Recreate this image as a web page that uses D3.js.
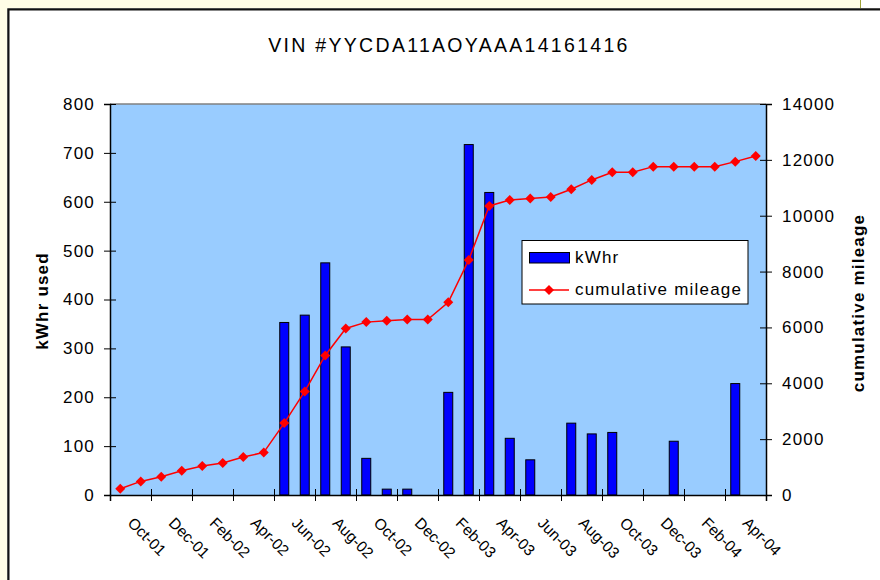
<!DOCTYPE html>
<html>
<head>
<meta charset="utf-8">
<script src="https://cdn.jsdelivr.net/npm/d3@7"></script>
<style>
  body { margin: 0; background: #fff; }
  svg { display: block; font-family: "Liberation Sans", Arial, sans-serif; }
</style>
</head>
<body>
<div id="chart"></div>
<script>
// monthly data, Oct-01 .. May-04
const months = ["Oct-01","Nov-01","Dec-01","Jan-02","Feb-02","Mar-02","Apr-02","May-02",
  "Jun-02","Jul-02","Aug-02","Sep-02","Oct-02","Nov-02","Dec-02","Jan-03",
  "Feb-03","Mar-03","Apr-03","May-03","Jun-03","Jul-03","Aug-03","Sep-03",
  "Oct-03","Nov-03","Dec-03","Jan-04","Feb-04","Mar-04","Apr-04","May-04"];

const kwhr = [null,null,null,null,null,null,null,null,
  353,368,475,303,75,12,12,null,
  210,717,619,116,72,null,147,125,
  128,null,null,110,null,null,228,null];

const mileage = [225,487,655,869,1037,1145,1360,1524,
  2576,3707,4995,5961,6190,6236,6283,6283,
  6900,8418,10350,10565,10612,10673,10948,11281,
  11556,11556,11757,11757,11757,11757,11936,12140];

const leftTicks = [0,100,200,300,400,500,600,700,800];
const rightTicks = [0,2000,4000,6000,8000,10000,12000,14000];
const title = "VIN #YYCDA11AOYAAA14161416";

// 1. svg + page frame
const svgWidth = 880, svgHeight = 580;
const plot = {left: 110, right: 766, top: 104, bottom: 495};

const svg = d3.select("#chart").append("svg")
  .attr("width", svgWidth)
  .attr("height", svgHeight);

svg.append("rect").attr("x", 0).attr("y", 0).attr("width", 860).attr("height", 9).attr("fill", "#FFFDE6");
svg.append("rect").attr("x", 0).attr("y", 0).attr("width", 8).attr("height", svgHeight).attr("fill", "#FFFDE6");
svg.append("line").attr("x1", 860.5).attr("x2", 860.5).attr("y1", 0).attr("y2", 9)
  .attr("stroke", "#9FA33A").attr("stroke-width", 1);
svg.append("path")
  .attr("d", `M7.5,${svgHeight + 5}V8.5H${svgWidth + 5}`)
  .attr("fill", "none").attr("stroke", "#888").attr("stroke-width", 1);
svg.append("path")
  .attr("d", `M8.5,${svgHeight + 5}V9.5H${svgWidth + 5}`)
  .attr("fill", "none").attr("stroke", "#111").attr("stroke-width", 2);

// 2. scales
const x = d3.scaleLinear().domain([0, months.length]).range([plot.left, plot.right]);
const yL = d3.scaleLinear().domain([0, 800]).range([plot.bottom, plot.top]);
const yR = d3.scaleLinear().domain([0, 14000]).range([plot.bottom, plot.top]);
const cx = i => x(i + 0.5);

// 3. plot area
svg.append("rect")
  .attr("x", plot.left).attr("y", plot.top)
  .attr("width", plot.right - plot.left).attr("height", plot.bottom - plot.top)
  .attr("fill", "#99CCFF");
svg.append("line")
  .attr("x1", plot.left).attr("x2", plot.right)
  .attr("y1", plot.top).attr("y2", plot.top)
  .attr("stroke", "#808080").attr("stroke-width", 1.5);

// title
svg.append("text")
  .attr("x", 449).attr("y", 52)
  .attr("text-anchor", "middle")
  .attr("font-size", "19.5px")
  .attr("letter-spacing", "2.3px")
  .attr("fill", "#000")
  .text(title);

// 4. bars
const barW = 9;
svg.append("g")
  .selectAll("rect")
  .data(kwhr.map((v, i) => ({v, i})).filter(d => d.v !== null))
  .enter()
  .append("rect")
  .attr("x", d => cx(d.i) - barW / 2)
  .attr("y", d => yL(d.v))
  .attr("width", barW)
  .attr("height", d => yL(0) - yL(d.v))
  .attr("fill", "#0000FF")
  .attr("stroke", "#000")
  .attr("stroke-width", 1);

// 5. axes
const fontSize = "17px";
const crossTicks = (g, dir) => g.selectAll(".tick line")
  .attr(dir + "1", -6).attr(dir + "2", 6);

const leftAxis = svg.append("g")
  .attr("transform", `translate(${plot.left},0)`)
  .call(d3.axisLeft(yL).tickValues(leftTicks).tickSize(6).tickPadding(9).tickFormat(d3.format("d")))
  .call(g => crossTicks(g, "x"));

const rightAxis = svg.append("g")
  .attr("transform", `translate(${plot.right},0)`)
  .call(d3.axisRight(yR).tickValues(rightTicks).tickSize(6).tickPadding(10).tickFormat(d3.format("d")))
  .call(g => crossTicks(g, "x"));

const bottomAxis = svg.append("g")
  .attr("transform", `translate(0,${plot.bottom})`)
  .call(d3.axisBottom(x).tickValues(d3.range(0, months.length + 1, 2)).tickSize(6).tickFormat(""))
  .call(g => crossTicks(g, "y"));

[leftAxis, rightAxis, bottomAxis].forEach(g => {
  g.select(".domain").attr("stroke", "#000").attr("stroke-width", 1.5);
  g.selectAll(".tick line").attr("stroke", "#000").attr("stroke-width", 1);
  g.selectAll("text")
    .attr("font-size", fontSize)
    .attr("letter-spacing", "1.2px")
    .attr("fill", "#000")
    .attr("font-family", null);
});

// rotated month labels
svg.append("g")
  .selectAll("text")
  .data(months.map((m, i) => ({m, i})).filter(d => d.i % 2 === 0))
  .enter()
  .append("text")
  .attr("transform", d => `translate(${cx(d.i) + 6.5},${plot.bottom + 29}) rotate(45)`)
  .attr("font-size", "15.5px")
  .attr("fill", "#000")
  .text(d => d.m);

// 6. mileage line + diamonds
const line = d3.line()
  .x((d, i) => cx(i))
  .y(d => yR(d));

svg.append("path")
  .datum(mileage)
  .attr("d", line)
  .attr("fill", "none")
  .attr("stroke", "#FF0000")
  .attr("stroke-width", 1.5);

const diamond = "M0,-5L5,0L0,5L-5,0Z";
svg.append("g")
  .selectAll("path")
  .data(mileage)
  .enter()
  .append("path")
  .attr("d", diamond)
  .attr("transform", (d, i) => `translate(${cx(i)},${yR(d)})`)
  .attr("fill", "#FF0000");

// 7. axis titles
svg.append("text")
  .attr("transform", "translate(48,301) rotate(-90)")
  .attr("text-anchor", "middle")
  .attr("font-size", fontSize)
  .attr("font-weight", "bold")
  .attr("letter-spacing", "1.2px")
  .text("kWhr used");

svg.append("text")
  .attr("transform", "translate(864,303) rotate(-90)")
  .attr("text-anchor", "middle")
  .attr("font-size", fontSize)
  .attr("font-weight", "bold")
  .attr("letter-spacing", "1.2px")
  .text("cumulative mileage");

// 8. legend
const legend = svg.append("g").attr("transform", "translate(522,240.5)");
legend.append("rect")
  .attr("width", 226).attr("height", 63.5)
  .attr("fill", "#fff").attr("stroke", "#000").attr("stroke-width", 1);
legend.append("rect")
  .attr("x", 7.5).attr("y", 12).attr("width", 40).attr("height", 10.5)
  .attr("fill", "#0000FF").attr("stroke", "#000").attr("stroke-width", 1);
legend.append("text")
  .attr("x", 53).attr("y", 22.5)
  .attr("font-size", fontSize).attr("letter-spacing", "1.2px")
  .text("kWhr");
legend.append("line")
  .attr("x1", 7).attr("x2", 47).attr("y1", 49.5).attr("y2", 49.5)
  .attr("stroke", "#FF0000").attr("stroke-width", 1.5);
legend.append("path")
  .attr("d", diamond)
  .attr("transform", "translate(27,49.5)")
  .attr("fill", "#FF0000");
legend.append("text")
  .attr("x", 53).attr("y", 54)
  .attr("font-size", fontSize).attr("letter-spacing", "1.2px")
  .text("cumulative mileage");
</script>
</body>
</html>
